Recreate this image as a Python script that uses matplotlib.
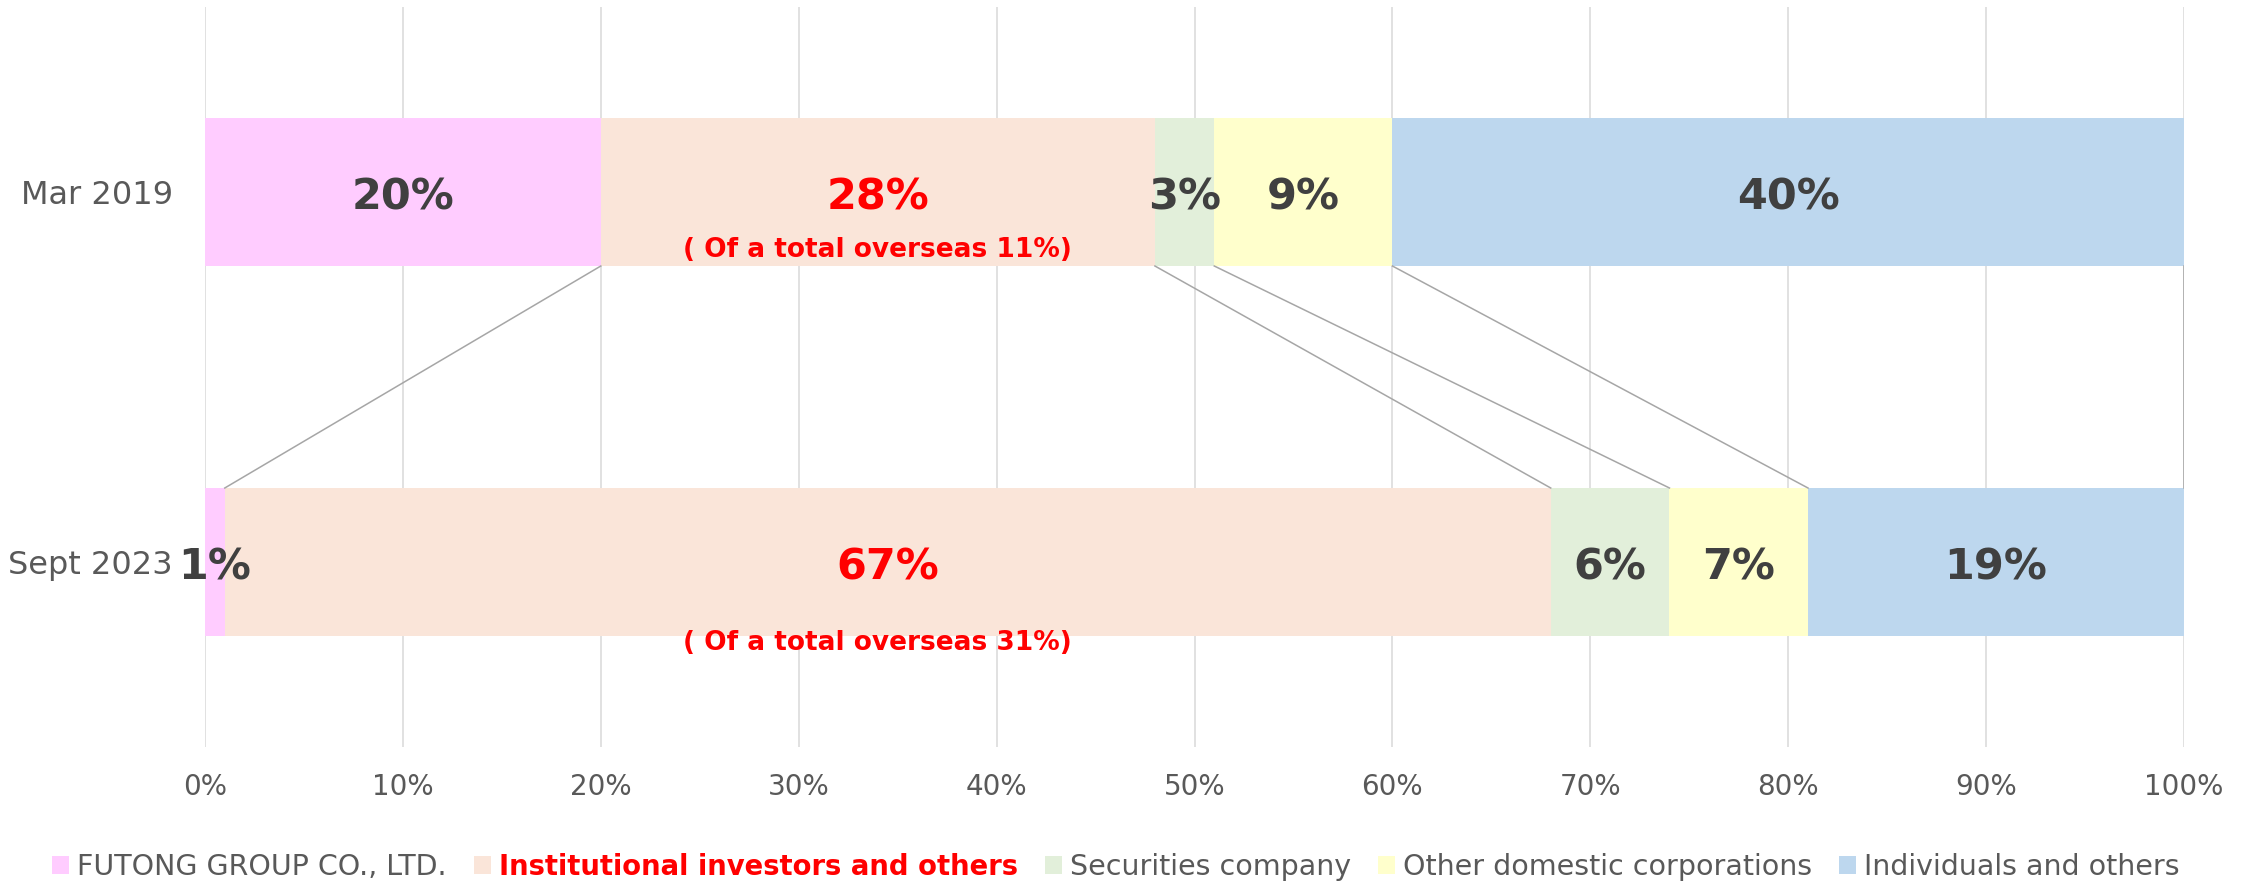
import matplotlib.pyplot as plt
import numpy as np
from matplotlib.patches import Patch

# Shareholder composition data (percent)
periods = ['Mar 2019', 'Sept 2023']
groups = ['FUTONG GROUP CO., LTD.', 'Institutional investors and others',
          'Securities company', 'Other domestic corporations', 'Individuals and others']
mar_2019 = [20, 28, 3, 9, 40]
sept_2023 = [1, 67, 6, 7, 19]
overseas = ['( Of a total overseas 11%)', '( Of a total overseas 31%)']
x_ticks = [0, 10, 20, 30, 40, 50, 60, 70, 80, 90, 100]

colors = ['#FFCCFF', '#FAE5D9', '#E2EFDA', '#FFFFCC', '#BDD7EE']
label_colors = ['#404040', 'red', '#404040', '#404040', '#404040']

plt.rcParams['font.family'] = ['DejaVu Sans']

fig = plt.figure(figsize=(22.52, 8.84), dpi=100)
ax = fig.add_axes([205/2252, 137/884, (2184-205)/2252, 740/884])

data = np.array([mar_2019, sept_2023], dtype=float)
ypos = np.arange(len(periods))
bar_h = 0.4
left = np.zeros(len(periods))
for j, g in enumerate(groups):
    ax.barh(ypos, data[:, j], left=left, height=bar_h, color=colors[j],
            edgecolor='none', zorder=2, label=g)
    for i in range(len(periods)):
        ax.annotate(f"{data[i, j]:.0f}%", (left[i] + data[i, j] / 2, ypos[i]),
                    xytext=(0, -4), textcoords='offset points',
                    ha='center', va='center', fontsize=31, fontweight='bold',
                    color=label_colors[j], zorder=4)
    left += data[:, j]

# connector lines between the cumulative boundaries
cum = np.cumsum(data, axis=1)
for k in range(len(groups)):
    ax.plot([cum[0, k], cum[1, k]], [ypos[0] + bar_h / 2, ypos[1] - bar_h / 2],
            color='#A6A6A6', lw=1.1, zorder=3)

# overseas notes
mid = cum[0, 0] + data[0, 1] / 2
ax.text(mid, ypos[0] + 0.157, overseas[0], ha='center', va='center',
        fontsize=19, fontweight='bold', color='red', zorder=4)
ax.text(mid, ypos[1] + 0.22, overseas[1], ha='center', va='center',
        fontsize=19, fontweight='bold', color='red', zorder=4)

ax.set_xlim(0, 100)
ax.set_ylim(1.5, -0.5)
ax.set_xticks(x_ticks)
ax.set_xticklabels([f"{t}%" for t in x_ticks])
ax.set_yticks(ypos)
ax.set_yticklabels(periods)
ax.tick_params(axis='x', length=0, pad=19, labelsize=20, labelcolor='#595959')
ax.tick_params(axis='y', length=0, pad=23, labelsize=23, labelcolor='#595959')
ax.grid(axis='x', color='#D9D9D9', lw=1.1, zorder=0)
ax.set_axisbelow(True)
for s in ax.spines.values():
    s.set_visible(False)

handles = [Patch(facecolor=c, edgecolor='none') for c in colors]
leg = fig.legend(handles, groups, loc='center', bbox_to_anchor=(1116/2252, 17/884),
                 ncol=5, frameon=False, fontsize=20.5, handlelength=0.6,
                 handleheight=0.6, handletextpad=0.28, columnspacing=0.95,
                 borderpad=0, borderaxespad=0)
for t in leg.get_texts():
    t.set_color('#595959')
leg.get_texts()[1].set_color('red')
leg.get_texts()[1].set_fontweight('bold')
leg.get_texts()[1].set_fontsize(19.8)

plt.savefig('out.png', dpi=100)
